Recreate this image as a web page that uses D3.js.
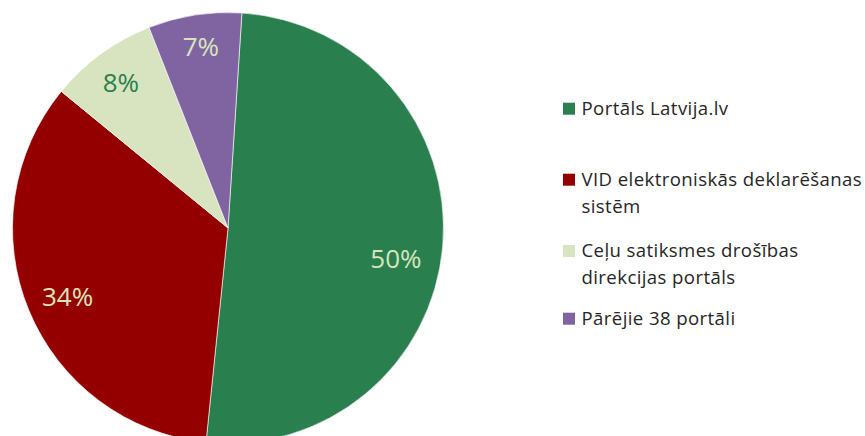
<!DOCTYPE html>
<html><head><meta charset="utf-8">
<script src="https://cdn.jsdelivr.net/npm/d3@7"></script>
<style>html,body{margin:0;padding:0;background:#fff;}svg{display:block;}</style>
</head><body>
<svg id="c" width="865" height="436"></svg>
<script>
const categories = ["Portāls Latvija.lv", "VID elektroniskās deklarēšanas sistēm", "Ceļu satiksmes drošības direkcijas portāls", "Pārējie 38 portāli"];
const legendLines = [["Portāls Latvija.lv"], ["VID elektroniskās deklarēšanas", "sistēm"], ["Ceļu satiksmes drošības", "direkcijas portāls"], ["Pārējie 38 portāli"]];
const values = [50.6, 34.3, 8.1, 7.0];
const labels = ["50%", "34%", "8%", "7%"];
const colors = ["#2a7f4f", "#940000", "#d8e4bf", "#8064a2"];
const labelColors = ["#d8e4bd", "#d8e4bd", "#2a7f4f", "#d8e4bd"];

const svg = d3.select("#c");
const cx = 228, cy = 228, r = 215.5;
const start = 3.7 * Math.PI / 180;
const pie = d3.pie().sort(null).value(d => d).startAngle(start).endAngle(start + 2 * Math.PI);
const arcs = pie(values);
const arc = d3.arc().innerRadius(0).outerRadius(r);
const g = svg.append("g").attr("transform", `translate(${cx},${cy})`);
g.selectAll("path").data(arcs).join("path")
  .attr("d", arc).attr("fill", (d, i) => colors[i])
  .attr("stroke", "#ffffff").attr("stroke-width", 0.6);

// label placement: radius factor and angular nudge (degrees) per slice
const labelR = [0.792, 0.81, 0.838, 0.85];
const labelDA = [5.5, -0.8, -0.3, 0.4];
g.selectAll("text.lbl").data(arcs).join("text")
  .attr("class", "lbl")
  .attr("transform", (d, i) => {
    const a = (d.startAngle + d.endAngle) / 2 + labelDA[i] * Math.PI / 180;
    const rr = r * labelR[i];
    return `translate(${rr * Math.sin(a)},${-rr * Math.cos(a)})`;
  })
  .attr("text-anchor", "middle").attr("dy", "0.36em")
  .attr("font-family", "'Open Sans', sans-serif").attr("font-size", 26)
  .attr("fill", (d, i) => labelColors[i])
  .text((d, i) => labels[i]);

const legY = [115, 186, 257.3, 325];
const lg = svg.append("g");
legendLines.forEach((lines, i) => {
  lg.append("rect").attr("x", 563).attr("y", legY[i] - 12.3).attr("width", 12).attr("height", 12).attr("fill", colors[i]);
  const t = lg.append("text").attr("x", 581.5).attr("y", legY[i])
    .attr("font-family", "'Open Sans', sans-serif").attr("font-size", 18.6)
    .attr("letter-spacing", 0.4).attr("fill", "#262626");
  lines.forEach((ln, j) => {
    t.append("tspan").attr("x", 581.5).attr("dy", j === 0 ? 0 : 26.8).text(ln);
  });
});
</script>
</body></html>
